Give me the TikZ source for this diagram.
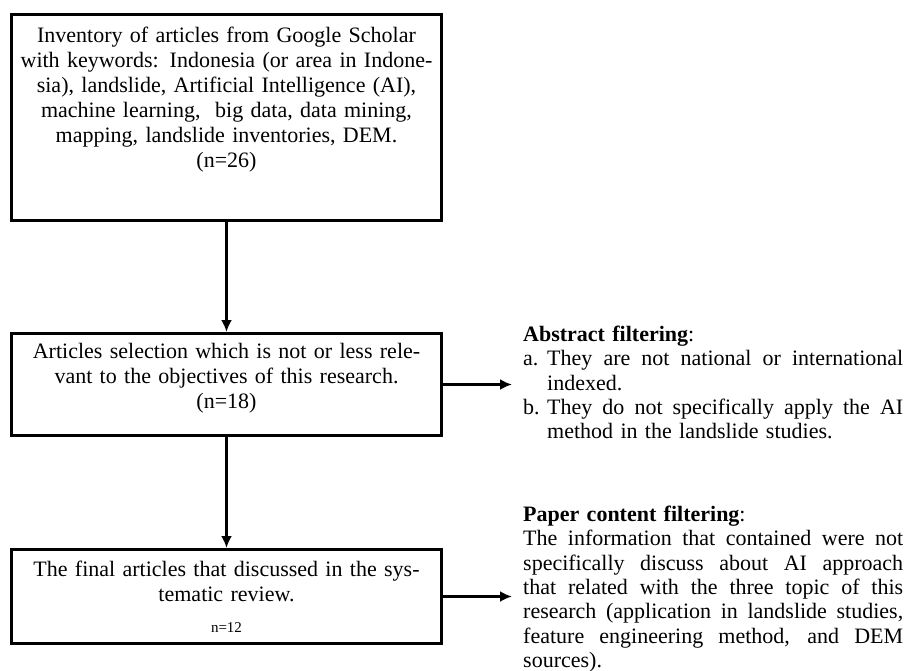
\documentclass[tikz,border=0pt]{standalone}
\usepackage{fontspec}
\setmainfont{Liberation Serif}
\usetikzlibrary{positioning}
\usetikzlibrary{arrows.meta}

\newcommand{\fillline}[1]{\makebox[380pt][s]{\spaceskip=.25em plus 1fil\relax #1}}
\newcommand{\itemline}[2]{\makebox[24pt][l]{#1}\makebox[356pt][s]{\spaceskip=.25em plus 1fil\relax #2}}

\begin{document}
\begin{tikzpicture}[x=1pt,y=-1pt,
  stagebox/.style={draw, line width=3pt, minimum width=430pt, text width=420pt, align=center, font=\fontsize{22}{25}\selectfont},
  note/.style={anchor=north west, inner xsep=11pt, inner ysep=0pt, text width=380pt, align=left, font=\fontsize{22}{24.3}\selectfont},
  flow/.style={-{Latex[length=12pt,width=11pt]}, line width=2.5pt},
  side/.style={-{Latex[length=12pt,width=11pt]}, line width=2.5pt}]
 \useasboundingbox (0,0) rectangle (907,671);
 % flow boxes
 \node[stagebox, minimum height=206pt] (inv) at (226.5,117.5) {Inventory of articles from Google Scholar\\
  with keywords: Indonesia (or area in Indone-\\
  sia), landslide, Artificial Intelligence (AI),\\
  machine learning,\ \ big data, data mining,\\
  mapping, landslide inventories, DEM.\\
  (n=26)\rule[-40pt]{0pt}{1pt}};
 \node[stagebox, minimum height=102pt, below=110pt of inv] (sel) {Articles selection which is not or less rele-\\
  vant to the objectives of this research.\\
  (n=18)\rule[-18pt]{0pt}{1pt}};
 \node[stagebox, minimum height=94pt, below=111pt of sel] (fin) {The final articles that discussed in the sys-\\
  tematic review.\\[6pt]
  {\fontsize{15}{18}\selectfont n=12}};
 % filtering notes
 \node[note] (absnote) at (512,326) {\textbf{Abstract filtering}:\\
  \itemline{a.}{They are not national or international}\\
  \hspace*{24pt}indexed.\\
  \itemline{b.}{They do not specifically apply the AI}\\
  \hspace*{24pt}method in the landslide studies.};
 \node[note] (papnote) at (512,506) {\textbf{Paper content filtering}:\\
  \fillline{The information that contained were not}\\
  \fillline{specifically discuss about AI approach}\\
  \fillline{that related with the three topic of this}\\
  \fillline{research (application in landslide studies,}\\
  \fillline{feature engineering method, and DEM}\\
  sources).};
 % arrows
 \draw[flow] (inv) -- (sel);
 \draw[flow] (sel) -- (fin);
 \draw[side] (sel.east) -- (absnote.west |- sel.east);
 \draw[side] (fin.east) -- (papnote.west |- fin.east);
\end{tikzpicture}
\end{document}
